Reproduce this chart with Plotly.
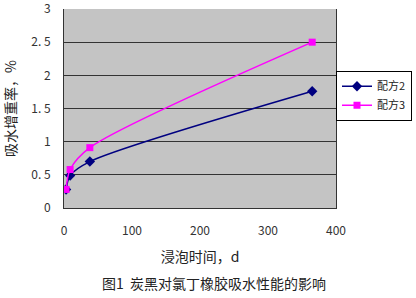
import plotly.graph_objects as go

days = [3, 9, 38, 365]
formula2 = [0.28, 0.49, 0.70, 1.76]
formula3 = [0.28, 0.58, 0.91, 2.50]
ytick_vals = [0, 0.5, 1, 1.5, 2, 2.5, 3]
ytick_text = ["0", "0. 5", "1", "1. 5", "2", "2. 5", "3"]
xtick_vals = [0, 100, 200, 300, 400]

font = "Noto Sans CJK SC"

fig = go.Figure()
fig.add_trace(go.Scatter(
    x=days, y=formula2, name="配方2", mode="lines+markers",
    line=dict(color="#000080", width=1.5, shape="spline", smoothing=0.8),
    marker=dict(symbol="diamond", size=8, color="#000080")))
fig.add_trace(go.Scatter(
    x=days, y=formula3, name="配方3", mode="lines+markers",
    line=dict(color="#FF00FF", width=1.5, shape="spline", smoothing=0.8),
    marker=dict(symbol="square", size=7, color="#FF00FF")))

fig.update_layout(
    width=416, height=298,
    margin=dict(l=64, r=80, t=9, b=90, autoexpand=False),
    paper_bgcolor="white", plot_bgcolor="#C4C4C4",
    font=dict(family=font, size=12, color="#222"),
    showlegend=True,
    legend=dict(x=1.0, y=0.69, xanchor="left", yanchor="top",
                bgcolor="white", bordercolor="black", borderwidth=1,
                font=dict(size=11, family=font), tracegroupgap=4,
                itemwidth=30),
    xaxis=dict(range=[0, 400], tickvals=xtick_vals, showgrid=False,
               zeroline=False, showline=True, linecolor="#333", linewidth=1,
               ticks="", ticklen=0, ticklabelstandoff=12,
               tickfont=dict(size=12, color="#333"),
               title=dict(text="浸泡时间，d", font=dict(size=14, color="#222"), standoff=14)),
    yaxis=dict(range=[0, 3], tickvals=ytick_vals, ticktext=ytick_text,
               showgrid=True, gridcolor="#333", gridwidth=1,
               zeroline=False, showline=True, mirror=True, linecolor="#333", linewidth=1,
               ticks="", ticklabelstandoff=10, ticklabeloverflow="allow",
               tickfont=dict(size=12, color="#333"),
               title=dict(text="吸水增重率，%", font=dict(size=14, color="#222"), standoff=12)),
)
fig.add_annotation(text="图1  炭黑对氯丁橡胶吸水性能的影响", xref="paper", yref="paper",
                   x=0.55, y=-0.375, yanchor="middle", showarrow=False,
                   font=dict(size=14, color="#222", family=font))
fig.write_html("out.html")
